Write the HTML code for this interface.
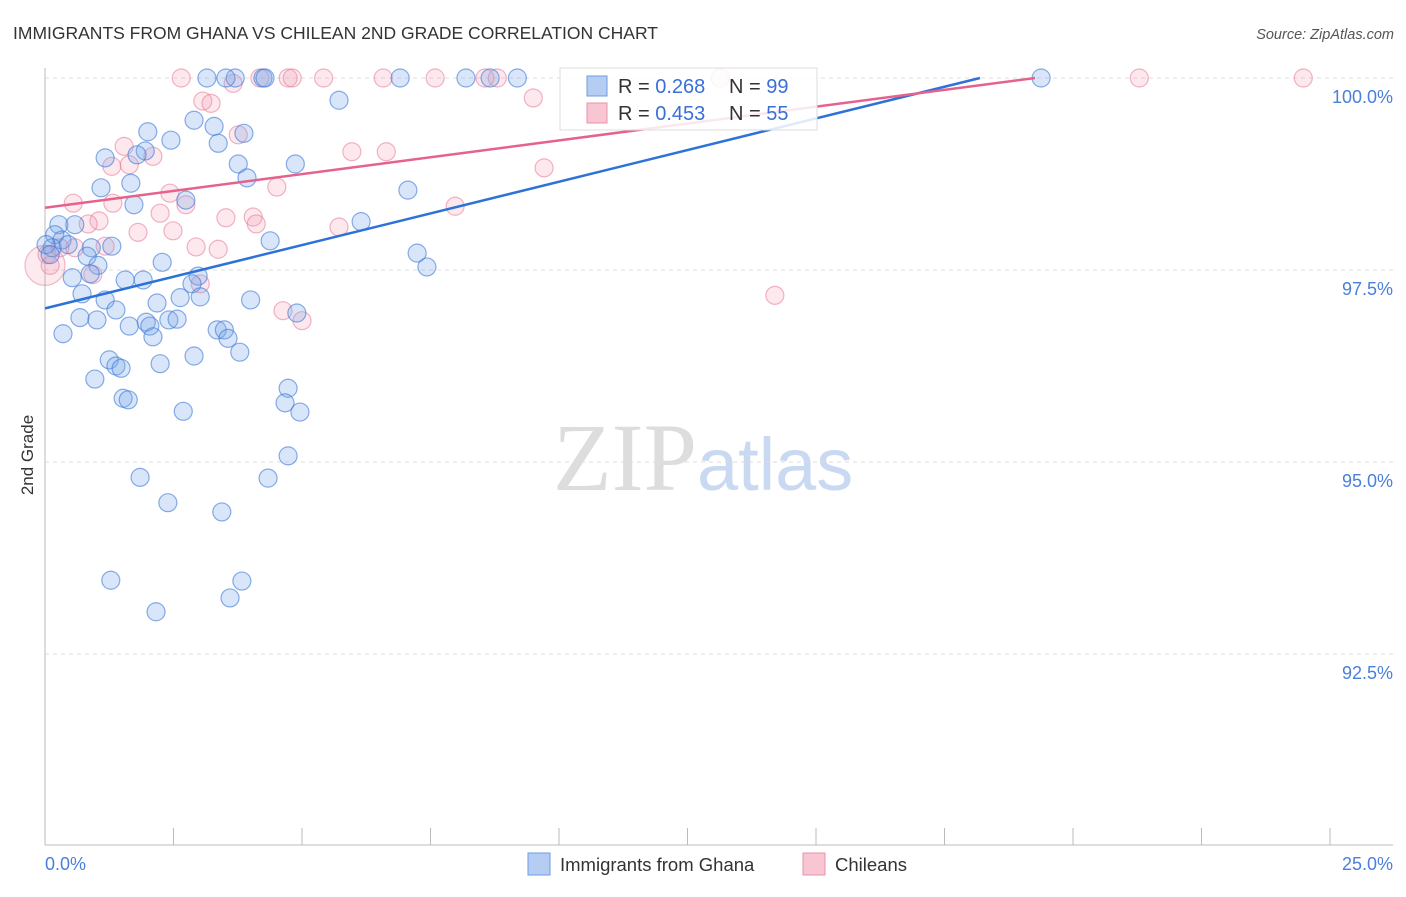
<!DOCTYPE html>
<html><head><meta charset="utf-8"><style>
body{margin:0;background:#fff;font-family:"Liberation Sans",sans-serif}
</style></head><body>
<svg id="chart" width="1406" height="892" xmlns="http://www.w3.org/2000/svg" font-family="Liberation Sans, sans-serif">
<text x="13" y="39" font-size="17.5" fill="#333">IMMIGRANTS FROM GHANA VS CHILEAN 2ND GRADE CORRELATION CHART</text>
<text x="1394" y="39" font-size="14.5" fill="#555" text-anchor="end" font-style="italic">Source: ZipAtlas.com</text>
<text x="553" y="490" font-size="96" fill="#ddd" font-family="Liberation Serif, serif">ZIP<tspan fill="#c9d9f2" font-family="Liberation Sans, sans-serif" font-size="74">atlas</tspan></text>
<text transform="translate(33,455) rotate(-90)" font-size="17" fill="#333" text-anchor="middle">2nd Grade</text>
<g id="grid"></g><g id="axes"></g><g id="pts"></g><g id="lines"></g>
<g>
<rect x="560" y="68" width="257" height="62" fill="#fff" fill-opacity="0.85" stroke="#ddd"/>
<rect x="587" y="76" width="20" height="20" fill="#b5cdf3" stroke="#6f9be0"/>
<text x="618" y="93" font-size="20" fill="#333">R = <tspan fill="#3a6fd8">0.268</tspan><tspan x="729">N = </tspan><tspan fill="#3a6fd8">99</tspan></text>
<rect x="587" y="103" width="20" height="20" fill="#f8c6d3" stroke="#e892ab"/>
<text x="618" y="120" font-size="20" fill="#333">R = <tspan fill="#3a6fd8">0.453</tspan><tspan x="729">N = </tspan><tspan fill="#3a6fd8">55</tspan></text>
</g>
<g>
<rect x="528" y="853" width="22" height="22" fill="#b5cdf3" stroke="#6f9be0"/>
<text x="560" y="871" font-size="18.5" fill="#333">Immigrants from Ghana</text>
<rect x="803" y="853" width="22" height="22" fill="#f8c6d3" stroke="#e892ab"/>
<text x="835" y="871" font-size="18.5" fill="#333">Chileans</text>
</g>
</svg>
<script>
const yTicks=[100,97.5,95,92.5];
const yTickLabels=["100.0%","97.5%","95.0%","92.5%"];
const xAxisLabels=["0.0%","25.0%"];
const ghanaX=[3.15,3.70,4.24,4.28,6.91,8.19,8.66,9.19,19.38,3.52,5.72,2.00,2.45,2.90,3.29,3.87,3.37,1.17,1.95,1.79,3.76,4.87,1.09,1.67,3.93,7.06,1.73,2.74,0.27,0.58,0.19,0.33,0.14,0.90,1.30,0.45,0.82,1.03,6.15,4.38,7.24,7.43,2.28,0.88,0.53,1.56,1.91,2.98,2.86,0.72,1.17,2.18,2.63,3.02,4.00,1.38,4.90,0.68,1.01,1.97,2.41,2.57,1.64,2.04,3.35,3.49,0.35,2.10,3.56,3.79,2.90,1.25,1.38,1.48,2.24,0.97,4.73,1.52,1.62,4.67,4.96,2.69,4.73,1.85,4.34,2.39,3.44,1.28,3.83,3.60,2.16,0.02,0.10];
const ghanaY=[100,100,100,100,100,100,100,100,100,100,99.71,99.30,99.19,99.45,99.37,99.28,99.15,98.96,99.05,99.00,98.88,98.88,98.57,98.63,98.70,98.54,98.35,98.41,98.09,98.09,97.96,97.89,97.79,97.79,97.81,97.83,97.68,97.56,98.13,97.88,97.72,97.54,97.60,97.45,97.40,97.37,97.37,97.42,97.32,97.19,97.11,97.07,97.14,97.15,97.11,96.98,96.94,96.88,96.85,96.82,96.85,96.86,96.77,96.77,96.72,96.72,96.67,96.63,96.61,96.43,96.38,96.33,96.25,96.22,96.28,96.08,95.96,95.83,95.81,95.77,95.65,95.66,95.08,94.80,94.79,94.47,94.35,93.46,93.45,93.23,93.05,97.83,97.70];
const chileX=[2.65,4.73,4.81,5.42,6.58,7.59,8.56,8.80,13.14,21.29,24.48,3.66,4.18,3.07,3.23,9.50,1.54,2.10,3.76,5.97,6.64,9.71,1.64,1.30,2.43,4.51,0.55,1.32,2.74,2.24,3.52,4.05,4.11,7.98,1.05,0.84,1.81,2.49,5.72,2.94,3.37,1.17,0.29,0.58,0.93,3.02,14.20,4.63,5.00,0.10,0.04];
const chileY=[100,100,100,100,100,100,100,100,100,100,100,99.93,100,99.70,99.67,99.74,99.11,98.98,99.26,99.04,99.04,98.83,98.87,98.85,98.50,98.58,98.37,98.37,98.35,98.24,98.18,98.19,98.10,98.33,98.14,98.10,97.99,98.01,98.06,97.80,97.77,97.81,97.79,97.79,97.44,97.32,97.17,96.97,96.84,97.56,97.70];
const ghanaTrend=[[0,97.0],[18.19,100]];
const chileTrend=[[0,98.31],[19.26,100]];
const NS="http://www.w3.org/2000/svg";
const X0=45,X1=1330,Y100=78,PXPER=76.8;
function sx(v){return X0+(v/25)*(X1-X0);}
function sy(v){return Y100+(100-v)*PXPER;}
function mk(tag,attrs,parent){const e=document.createElementNS(NS,tag);for(const k in attrs)e.setAttribute(k,attrs[k]);parent.appendChild(e);return e;}
const grid=document.getElementById('grid'),axes=document.getElementById('axes'),pts=document.getElementById('pts'),lines=document.getElementById('lines');
yTicks.forEach((t,i)=>{
 const g=mk('line',{x1:X0,x2:1393,y1:sy(t),y2:sy(t),stroke:'#ddd','stroke-dasharray':'4,4'},grid);
 
 
 const l=mk('text',{x:1393,y:sy(t)+25,'font-size':18,fill:'#4a7fdb','text-anchor':'end'},axes);
 l.textContent=yTickLabels[i];
 
 
});
const ya=mk('line',{x1:X0,x2:X0,y1:68,y2:845,stroke:'#bbb'},axes);


const xa=mk('line',{x1:X0,x2:1393,y1:845,y2:845,stroke:'#bbb'},axes);


for(let i=0;i<=10;i++){
 const t=mk('line',{x1:sx(i*2.5),x2:sx(i*2.5),y1:828,y2:845,stroke:'#bbb'},axes);
 
 
}
const xl0=mk('text',{x:45,y:870,'font-size':18,fill:'#4a7fdb'},axes);xl0.textContent=xAxisLabels[0];


const xl1=mk('text',{x:1393,y:870,'font-size':18,fill:'#4a7fdb','text-anchor':'end'},axes);xl1.textContent=xAxisLabels[1];


const big=mk('circle',{cx:sx(0),cy:sy(97.56),r:20,fill:'rgba(242,150,175,0.2)',stroke:'rgba(230,120,150,0.5)','stroke-width':1.2},pts);


chileX.forEach((x,i)=>{
 const c=mk('circle',{cx:sx(x),cy:sy(chileY[i]),r:9,fill:'rgba(242,150,175,0.22)',stroke:'rgba(230,120,150,0.55)','stroke-width':1.2},pts);
 
 
});
ghanaX.forEach((x,i)=>{
 const c=mk('circle',{cx:sx(x),cy:sy(ghanaY[i]),r:9,fill:'rgba(120,165,235,0.28)',stroke:'rgba(60,120,215,0.6)','stroke-width':1.2},pts);
 
 
});
const bl=mk('line',{x1:sx(ghanaTrend[0][0]),y1:sy(ghanaTrend[0][1]),x2:sx(ghanaTrend[1][0]),y2:sy(ghanaTrend[1][1]),stroke:'#2d72d9','stroke-width':2.5},lines);


const pl=mk('line',{x1:sx(chileTrend[0][0]),y1:sy(chileTrend[0][1]),x2:sx(chileTrend[1][0]),y2:sy(chileTrend[1][1]),stroke:'#e4628c','stroke-width':2.5},lines);


</script>
</body></html>
